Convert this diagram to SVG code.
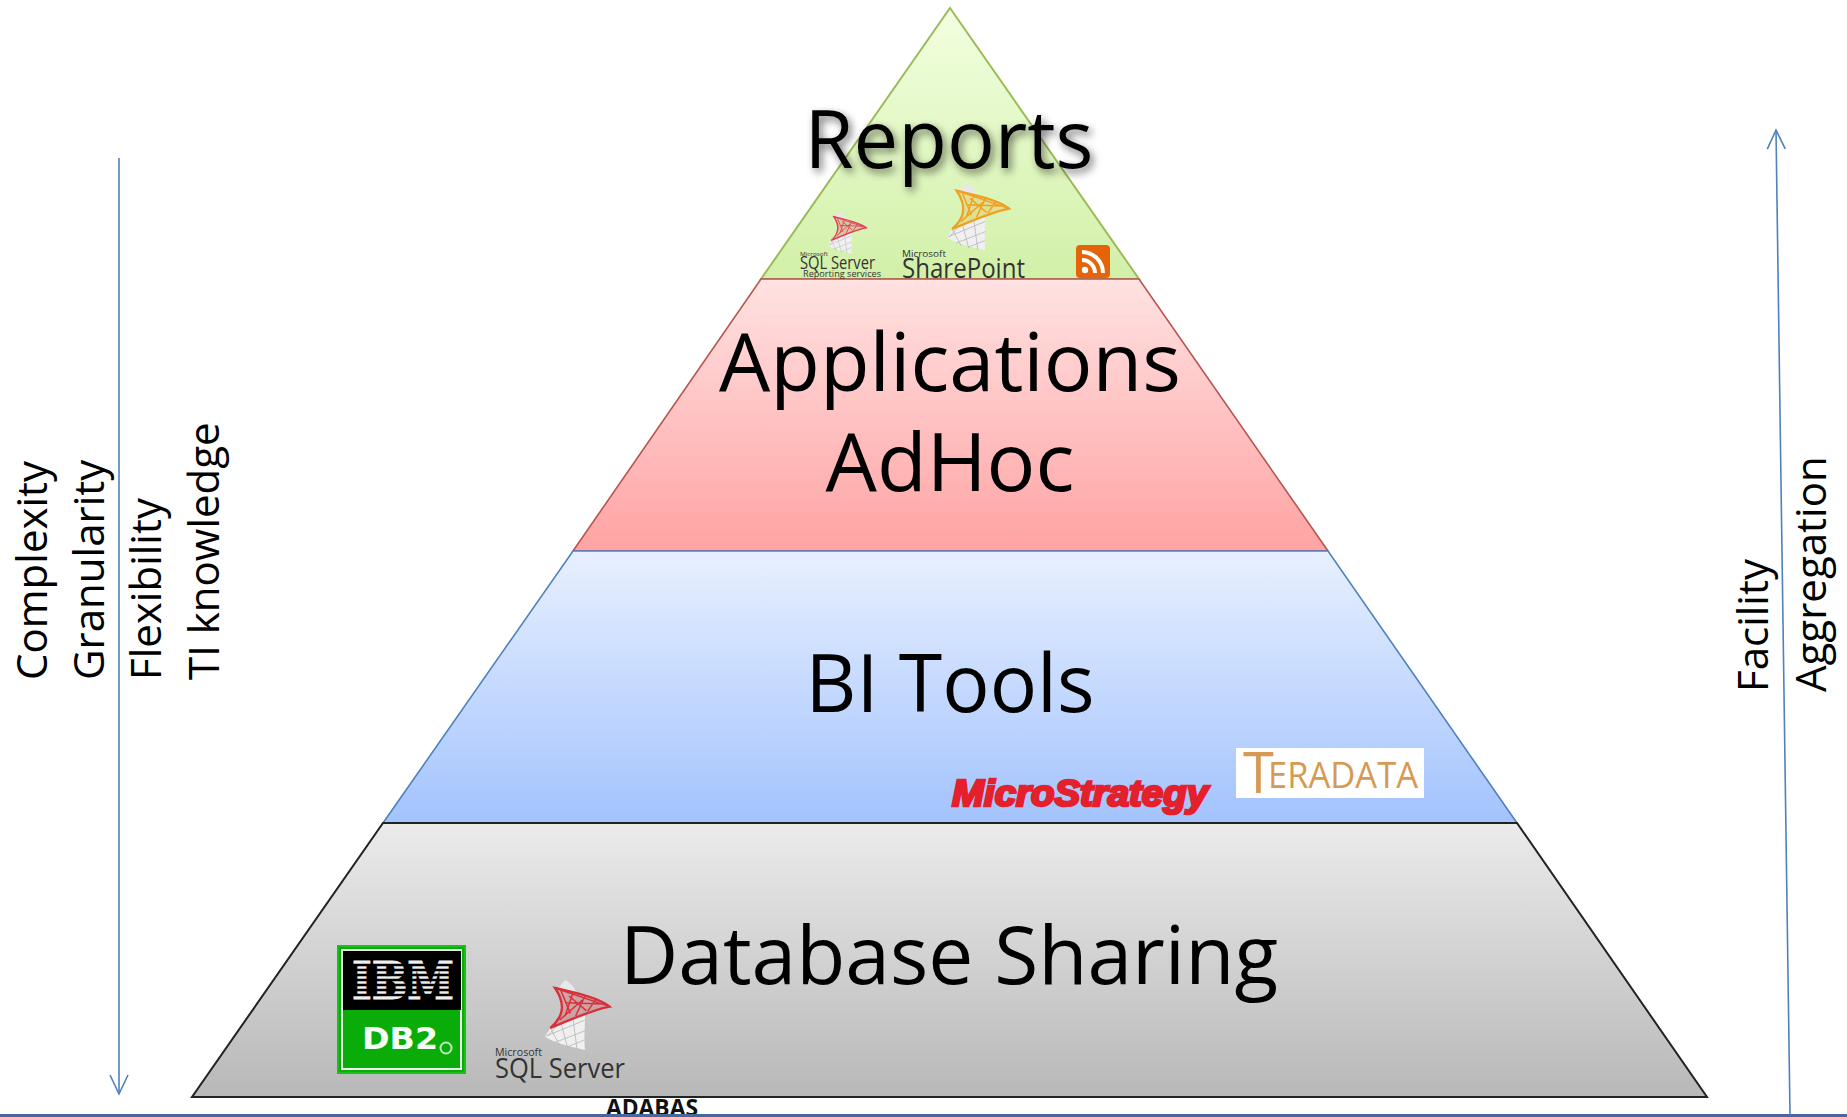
<svg xmlns="http://www.w3.org/2000/svg" xmlns:xlink="http://www.w3.org/1999/xlink" width="1847" height="1117" viewBox="0 0 1847 1117">
<style>
.big{font-family:"Open Sans","Liberation Sans",sans-serif;font-size:80px;fill:#000;text-anchor:middle}
.side{font-family:"Open Sans","Liberation Sans",sans-serif;font-size:42px;fill:#000}
.conn{fill:none;stroke:#4f81bd;stroke-width:1.6}
.logo{font-family:"Open Sans","Liberation Sans",sans-serif;fill:#333}
</style>
<defs>
<linearGradient id="gG" x1="0" y1="0" x2="0" y2="1"><stop offset="0" stop-color="#f2ffe0"/><stop offset="1" stop-color="#d2f0a8"/></linearGradient>
<linearGradient id="gR" x1="0" y1="0" x2="0" y2="1"><stop offset="0" stop-color="#ffe2e2"/><stop offset="1" stop-color="#ffa3a3"/></linearGradient>
<linearGradient id="gB" x1="0" y1="0" x2="0" y2="1"><stop offset="0" stop-color="#e8f0ff"/><stop offset="1" stop-color="#a3c3fd"/></linearGradient>
<linearGradient id="gK" x1="0" y1="0" x2="0" y2="1"><stop offset="0" stop-color="#ebebeb"/><stop offset="1" stop-color="#b8b8b8"/></linearGradient>
<filter id="sh" x="-10%" y="-20%" width="120%" height="150%"><feGaussianBlur in="SourceAlpha" stdDeviation="4"/><feOffset dx="3" dy="4"/><feComponentTransfer><feFuncA type="linear" slope="0.55"/></feComponentTransfer><feMerge><feMergeNode/><feMergeNode in="SourceGraphic"/></feMerge></filter>
<marker id="open" markerWidth="24" markerHeight="24" refX="20" refY="10" orient="auto" markerUnits="userSpaceOnUse" viewBox="0 0 24 20"><path d="M1 1L20 10L1 19" fill="none" stroke="#4f81bd" stroke-width="1.6"/></marker>
<g id="tower">
<path d="M30 0C38 4 44 10 46 18L20 12Z" fill="#e8e8e8"/>
<path d="M8 72C30 60 50 56 60 52C60 75 58 90 60 105C40 100 15 95 0 85Z" fill="#f0f0f0"/>
<path d="M8 72L22 98M24 64L34 102M42 58L48 104M60 60L2 84M60 76L14 94M59 90L34 100M18 68L4 84" stroke="#b8b8b8" stroke-width="1.3" fill="none"/>
<path d="M15 12C40 18 80 26 97 40C75 44 50 54 8 72C24 58 34 40 15 12Z" fill="currentColor" fill-opacity=".25" stroke="currentColor" stroke-width="3.500"/>
<path d="M15 12L97 40M24 16L38 50M42 19L30 54M60 24L46 54M76 29L64 47M30 34L88 36M36 24L62 46M22 60L56 30" stroke="currentColor" stroke-width="2.200" fill="none"/>
</g>
</defs>

<g id="label-adabas"><text x="606" y="1116" font-family="'Open Sans','Liberation Sans',sans-serif" font-size="23" font-weight="700" fill="#111" textLength="92" lengthAdjust="spacingAndGlyphs">ADABAS</text></g>

<g id="connectors">
<line x1="0" y1="1115.500" x2="1847" y2="1115.500" stroke="#44699a" stroke-width="3"/>
<line class="conn" x1="119" y1="158" x2="119" y2="1094" marker-end="url(#open)"/>
<line class="conn" x1="1790" y1="1115" x2="1776" y2="130" marker-end="url(#open)"/>
</g>

<g id="layer-reports">
<path d="M950 8L1139 279H761Z" fill="url(#gG)" stroke="#9bbb59" stroke-width="2"/>
</g>
<g id="layer-applications">
<path d="M761 279H1139L1328 551H573Z" fill="url(#gR)" stroke="#b85450" stroke-width="1.600"/>
</g>
<g id="layer-bi">
<path d="M573 551H1328L1517 823H383Z" fill="url(#gB)" stroke="#4f81bd" stroke-width="1.600"/>
</g>
<g id="layer-database">
<path d="M383 823H1517L1707 1097H192Z" fill="url(#gK)" stroke="#222" stroke-width="2"/>
</g>

<g id="label-reports"><text class="big" x="949" y="168" filter="url(#sh)" textLength="289" lengthAdjust="spacingAndGlyphs">Reports</text></g>
<g id="label-applications"><text class="big" x="950" y="391" textLength="462" lengthAdjust="spacingAndGlyphs">Applications</text><text class="big" x="950" y="491" textLength="249" lengthAdjust="spacingAndGlyphs">AdHoc</text></g>
<g id="label-bi"><text class="big" x="950" y="712" textLength="289" lengthAdjust="spacingAndGlyphs">BI Tools</text></g>
<g id="label-database"><text class="big" x="949" y="984" textLength="658" lengthAdjust="spacingAndGlyphs">Database Sharing</text></g>

<g id="side-left">
<text class="side" transform="translate(47 680) rotate(-90)">Complexity</text>
<text class="side" transform="translate(104 680) rotate(-90)">Granularity</text>
<text class="side" transform="translate(161 680) rotate(-90)">Flexibility</text>
<text class="side" transform="translate(219 680) rotate(-90)">TI knowledge</text>
</g>
<g id="side-right">
<text class="side" transform="translate(1768 692) rotate(-90)">Facility</text>
<text class="side" transform="translate(1826 692) rotate(-90)">Aggregation</text>
</g>

<g id="logo-sql-rs">
<use xlink:href="#tower" href="#tower" transform="translate(828 212) scale(.395)" color="#e0405a"/>
<text class="logo" x="800" y="256" font-size="6" textLength="28" lengthAdjust="spacingAndGlyphs">Microsoft</text>
<text class="logo" x="800" y="269" font-size="19" textLength="75" lengthAdjust="spacingAndGlyphs">SQL Server</text>
<text class="logo" x="803" y="277" font-size="9.500" fill="#222" textLength="78" lengthAdjust="spacingAndGlyphs">Reporting services</text>
</g>
<g id="logo-sharepoint">
<use xlink:href="#tower" href="#tower" transform="translate(947 183) scale(.64)" color="#f0a020"/>
<text class="logo" x="902" y="257" font-size="9" textLength="44" lengthAdjust="spacingAndGlyphs">Microsoft</text>
<text class="logo" x="902" y="278" font-size="27" fill="#222" textLength="123" lengthAdjust="spacingAndGlyphs">SharePoint</text>
</g>
<g id="logo-rss">
<rect x="1076" y="245" width="34" height="33" rx="4" fill="#e5640a"/>
<circle cx="1085" cy="270" r="3.200" fill="#fff"/>
<path d="M1082 260A13 13 0 0 1 1095 273M1082 252A21 21 0 0 1 1103 273" fill="none" stroke="#fff" stroke-width="4"/>
</g>

<g id="logo-microstrategy">
<text x="952" y="806" font-family="'Liberation Sans',Arial,sans-serif" font-size="36" font-weight="700" font-style="italic" fill="#e3202c" stroke="#e3202c" stroke-width="2.600" textLength="256" lengthAdjust="spacingAndGlyphs">MicroStrategy</text>
</g>
<g id="logo-teradata">
<rect x="1236" y="748" width="188" height="50" fill="#fff"/>
<text x="1243" y="793" font-family="'Open Sans','Liberation Sans',sans-serif" font-size="56" fill="#d69a55">T</text>
<text x="1268" y="788" font-family="'Open Sans','Liberation Sans',sans-serif" font-size="37" fill="#d69a55" textLength="150" lengthAdjust="spacingAndGlyphs">ERADATA</text>
</g>

<g id="logo-db2">
<rect x="338" y="946" width="127" height="127" fill="#0aac0a" stroke="#18c018" stroke-width="2"/>
<rect x="342" y="950" width="119" height="119" fill="none" stroke="#e8f5e8" stroke-width="2"/>
<rect x="343" y="951" width="118" height="59" fill="#000"/>
<text x="352" y="999" font-family="'DejaVu Serif','Liberation Serif',serif" font-size="52" font-weight="700" fill="#f0f0f0" stroke="#f0f0f0" stroke-width="1.200" textLength="102" lengthAdjust="spacingAndGlyphs">IBM</text>
<path d="M348 965H458M348 970H458M348 975H458M348 980H458M348 985H458M348 990H458M348 995H458" stroke="#000" stroke-width="2.600" fill="none"/>
<text x="362" y="1049" font-family="'DejaVu Sans',sans-serif" font-size="30" font-weight="700" fill="#f4fff4" textLength="76" lengthAdjust="spacingAndGlyphs">DB2</text>
<circle cx="446" cy="1048" r="5.500" fill="none" stroke="#bfe8bf" stroke-width="2"/>
</g>
<g id="logo-sql-db">
<use xlink:href="#tower" href="#tower" transform="translate(545 980) scale(.667)" color="#d8303a"/>
<text class="logo" x="495" y="1056" font-size="11" fill="#444" textLength="47" lengthAdjust="spacingAndGlyphs">Microsoft</text>
<text class="logo" x="495" y="1078" font-size="28" fill="#333" textLength="130" lengthAdjust="spacingAndGlyphs">SQL Server</text>
</g>
</svg>
